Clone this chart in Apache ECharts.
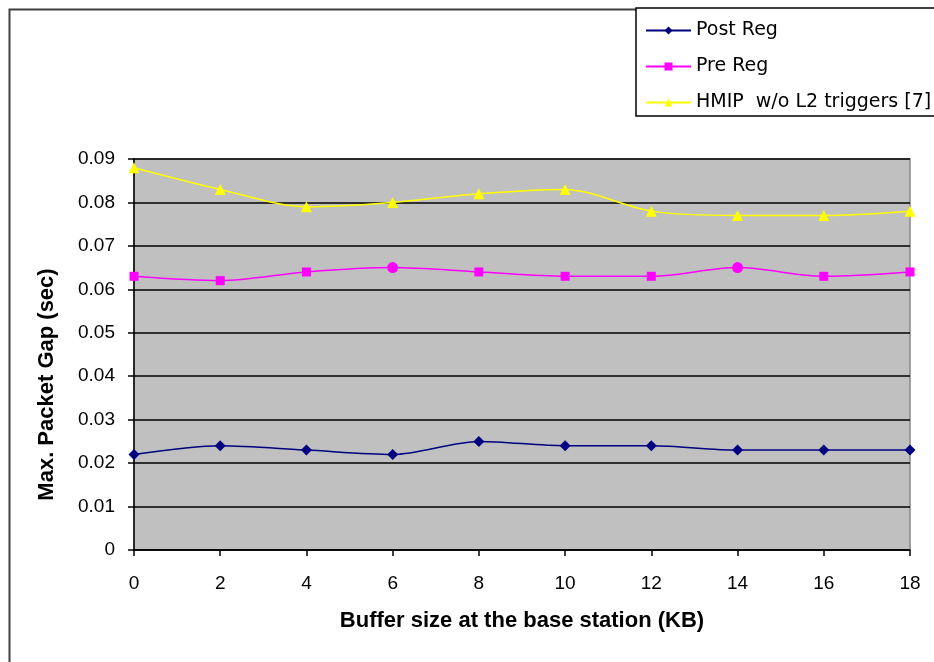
<!DOCTYPE html>
<html>
<head>
<meta charset="UTF-8">
<title>Max packet gap</title>
<script src="https://cdn.jsdelivr.net/npm/echarts@6/dist/echarts.min.js"></script>
<style>
  html, body { margin: 0; padding: 0; background: #fff; }
  #main { width: 934px; height: 662px; }
</style>
</head>
<body>
<div id="main"></div>
<script type="text/javascript">
// buffer sizes (KB)
var bufferSizes = [0, 2, 4, 6, 8, 10, 12, 14, 16, 18];
// max packet gap (sec)
var postReg = [0.022, 0.024, 0.023, 0.022, 0.025, 0.024, 0.024, 0.023, 0.023, 0.023];
var preReg = [0.063, 0.062, 0.064, 0.065, 0.064, 0.063, 0.063, 0.065, 0.063, 0.064];
var hmip = [0.088, 0.083, 0.079, 0.080, 0.082, 0.083, 0.078, 0.077, 0.077, 0.078];
// pre reg points drawn as round dots in the original
var preRegRound = [6, 14];

function pairs(vals, fn) {
    return bufferSizes.map(function (x, i) {
        var item = { value: [x, vals[i]] };
        if (fn) fn(item, x);
        return item;
    });
}

var myChart = echarts.init(document.getElementById('main'));
var font = 'Liberation Sans, Arial, sans-serif';

var option = {
    animation: false,
    backgroundColor: '#fff',
    textStyle: { fontFamily: font },
    graphic: [{
        type: 'rect',
        left: 7, top: 7,
        shape: { width: 1000, height: 700 },
        style: { fill: 'none', stroke: '#404040', lineWidth: 2 },
        z: -1
    }],
    legend: {
        left: 636, top: 8,
        orient: 'vertical',
        padding: [13, 60, 4, 9],
        itemGap: 17,
        itemWidth: 45,
        itemHeight: 10,
        borderColor: '#000',
        borderWidth: 1.5,
        backgroundColor: '#fff',
        textStyle: { fontSize: 19, color: '#000', fontFamily: 'DejaVu Sans' },
        data: ['Post Reg', 'Pre Reg', 'HMIP  w/o L2 triggers [7]']
    },
    grid: {
        left: 134, right: 24, top: 159, bottom: 112,
        show: true,
        backgroundColor: '#c0c0c0',
        borderColor: '#888',
        borderWidth: 1.5
    },
    xAxis: {
        type: 'value',
        min: 0, max: 18, interval: 2,
        name: 'Buffer size at the base station (KB)',
        nameLocation: 'middle',
        nameGap: 60,
        nameTextStyle: { fontSize: 22, fontWeight: 'bold', color: '#000' },
        axisLine: { lineStyle: { color: '#000', width: 1.5 } },
        axisTick: { inside: false, length: 6, lineStyle: { color: '#000', width: 1.5 } },
        axisLabel: { fontSize: 19, color: '#000', margin: 24 },
        splitLine: { show: false }
    },
    yAxis: {
        type: 'value',
        min: 0, max: 0.09, interval: 0.01,
        name: 'Max. Packet Gap (sec)',
        nameLocation: 'middle',
        nameGap: 76,
        // title sits a bit below the plot's middle in the original
        nameTextStyle: { fontSize: 22, fontWeight: 'bold', color: '#000', padding: [0, 60, 0, 0] },
        axisLine: { show: true, lineStyle: { color: '#000', width: 1.5 } },
        axisTick: { show: true, length: 6, lineStyle: { color: '#000', width: 1.5 } },
        axisLabel: { fontSize: 19, color: '#000', margin: 19 },
        splitLine: { show: true, lineStyle: { color: '#000', width: 1.5 } }
    },
    series: [
        {
            name: 'Post Reg',
            type: 'line',
            smooth: 0.3,
            symbol: 'diamond',
            symbolSize: 11,
            color: '#000080',
            lineStyle: { width: 1.5 },
            data: pairs(postReg)
        },
        {
            name: 'Pre Reg',
            type: 'line',
            smooth: 0.3,
            symbol: 'rect',
            symbolSize: 9,
            color: '#ff00ff',
            lineStyle: { width: 1.5 },
            data: pairs(preReg, function (item, x) {
                if (preRegRound.indexOf(x) >= 0) {
                    item.symbol = 'circle';
                    item.symbolSize = 11;
                }
            })
        },
        {
            name: 'HMIP  w/o L2 triggers [7]',
            type: 'line',
            smooth: 0.3,
            symbol: 'triangle',
            symbolSize: 11,
            color: '#ffff00',
            lineStyle: { width: 1.5 },
            data: pairs(hmip)
        }
    ]
};

myChart.setOption(option);
</script>
</body>
</html>
